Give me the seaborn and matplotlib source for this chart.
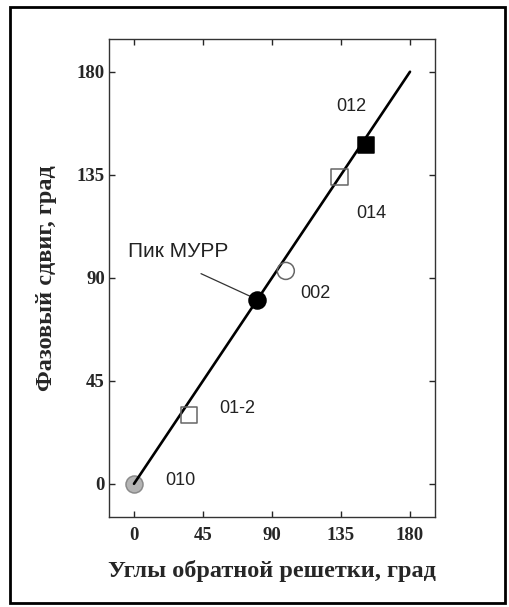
import matplotlib
matplotlib.use("Agg")
import matplotlib.pyplot as plt
import seaborn as sns
import pandas as pd
from matplotlib.patches import Rectangle

# Data
line_x = [0, 180]
line_y = [0, 180]

pt_labels = ["010", "01-2", "МУРР", "002", "014", "012"]
pt_x = [0, 36, 80.5, 99, 134, 151]
pt_y = [0, 30, 80.5, 93, 134, 148]
pt_marker = ["o", "s", "o", "o", "s", "s"]
pt_face = ["#b4b4b4", "none", "black", "none", "none", "black"]
pt_edge = ["#8a8a8a", "#666666", "black", "#666666", "#666666", "black"]
pt_z = [1, 3, 3, 3, 3, 3]

ann_text = ["012", "014", "002", "01-2", "010"]
ann_x = [141.5, 154.5, 118, 67.5, 30]
ann_y = [165, 118, 83, 33, 1.5]

ticks = [0, 45, 90, 135, 180]

sns.set_style("ticks")
plt.rcParams["font.family"] = ["Liberation Sans", "DejaVu Sans"]

fig = plt.figure(figsize=(5.10, 6.07), dpi=100)
ax = fig.add_axes([109/510, 1 - 517/607, (435-109)/510, (517-39)/607])

df_line = pd.DataFrame({"x": line_x, "y": line_y})
sns.lineplot(data=df_line, x="x", y="y", ax=ax, color="black", linewidth=1.9, zorder=2)

for lab, x, y, m, fc, ec, z in zip(pt_labels, pt_x, pt_y, pt_marker, pt_face, pt_edge, pt_z):
    df = pd.DataFrame({"x": [x], "y": [y]})
    size = 150 if m == "o" else 135
    sns.scatterplot(data=df, x="x", y="y", ax=ax, marker=m, s=size,
                    facecolor=fc, edgecolor=ec, linewidth=1.1, zorder=z)

for t, x, y in zip(ann_text, ann_x, ann_y):
    ax.text(x, y, t, fontsize=13, ha="center", va="center", color="#222222",
            family=["Liberation Sans", "DejaVu Sans"])

ax.text(28.5, 101.6, "Пик МУРР", fontsize=15, ha="center", va="center",
        color="#222222", family=["Liberation Sans", "DejaVu Sans"])
ax.plot([43.7, 75.5], [91.8, 82], color="#333333", lw=0.9)

ax.set_xlim(-16.3, 196.3)
ax.set_ylim(-14.5, 194.3)
ax.set_xticks(ticks)
ax.set_yticks(ticks)
ax.set_xticklabels([str(t) for t in ticks], fontsize=13.5, fontweight="bold",
                   family=["Liberation Serif", "DejaVu Serif"])
ax.set_yticklabels([str(t) for t in ticks], fontsize=13.5, fontweight="bold",
                   family=["Liberation Serif", "DejaVu Serif"])
ax.tick_params(direction="in", length=4, width=1, top=True, right=True)
ax.tick_params(axis="x", pad=7)
ax.tick_params(axis="y", pad=3)
for s in ax.spines.values():
    s.set_linewidth(1.0)
    s.set_color("#333333")
    s.set_visible(True)

ax.set_xlabel("Углы обратной решетки, град", fontsize=17.5, fontweight="bold",
              family=["Liberation Serif", "DejaVu Serif"], labelpad=12)
ax.set_ylabel("Фазовый сдвиг, град", fontsize=17.5, fontweight="bold",
              family=["Liberation Serif", "DejaVu Serif"], labelpad=14)

fig.patches.append(Rectangle((10/510, 1 - 603/607), (505-10)/510, (603-7)/607,
                             transform=fig.transFigure, fill=False,
                             edgecolor="black", linewidth=2, zorder=10))

fig.savefig("out.png", dpi=100)
